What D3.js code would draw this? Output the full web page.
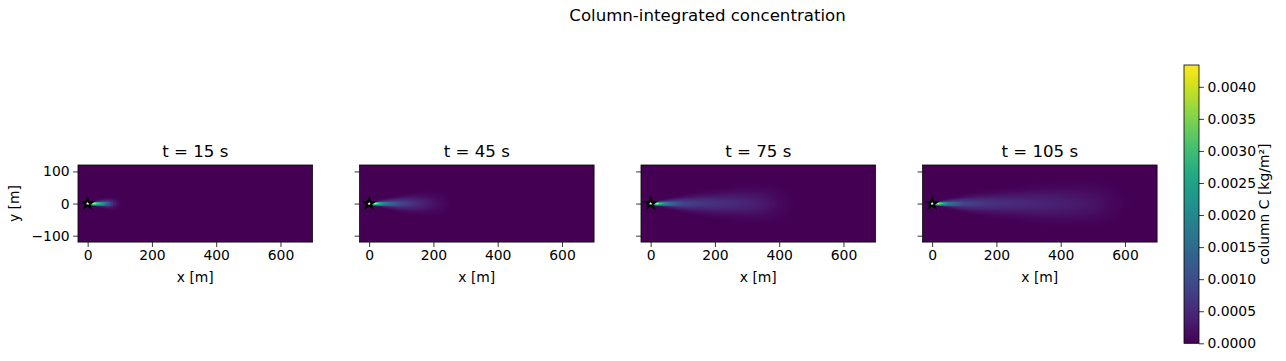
<!DOCTYPE html>
<html>
<head>
<meta charset="utf-8">
<script src="https://cdn.jsdelivr.net/npm/d3@7"></script>
<style>
  body { margin: 0; background: #fff; }
  text { font-family: "DejaVu Sans", sans-serif; fill: #000; }
</style>
</head>
<body>
<div id="chart"></div>
<script>
// snapshot times [s]
const times = [15, 45, 75, 105];

const stationX = [0, 10, 20, 25, 30, 40, 50, 60, 80, 100, 150, 200, 250, 300, 350, 400, 450, 500, 550, 600, 700];

// centreline column concentration [kg/m²] per snapshot
const center15  = [0.0043, 0.0043, 0.0042, 0.0038, 0.0033, 0.0027, 0.0021, 0.0015, 0.0004, 0.00003, 0, 0, 0, 0, 0, 0, 0, 0, 0, 0, 0];
const center45  = [0.0043, 0.0043, 0.0042, 0.0036, 0.0030, 0.0024, 0.0019, 0.0016, 0.0012, 0.0009, 0.0005, 0.0002, 0.00002, 0, 0, 0, 0, 0, 0, 0, 0];
const center75  = [0.0043, 0.0043, 0.0042, 0.0036, 0.0030, 0.0024, 0.0019, 0.0016, 0.0012, 0.0009, 0.0007, 0.0006, 0.00052, 0.00042, 0.00028, 0.0001, 0.00001, 0, 0, 0, 0];
const center105 = [0.0043, 0.0043, 0.0042, 0.0036, 0.0030, 0.0024, 0.0019, 0.0016, 0.0012, 0.0009, 0.0007, 0.0006, 0.00052, 0.00047, 0.00042, 0.00037, 0.0003, 0.00022, 0.0001, 0.00002, 0];

// crosswind spread [m] at each station
const sigmaY = [1.5, 2.5, 3.2, 3.6, 4, 4.8, 5.6, 6.5, 8.5, 11, 15, 18, 21, 24, 27, 29, 31, 33, 35, 37, 40];

const centers = [center15, center45, center75, center105];

const xTicks = [0, 200, 400, 600];
const yTicks = [-100, 0, 100];
const cbarTicks = [0, 0.0005, 0.001, 0.0015, 0.002, 0.0025, 0.003, 0.0035, 0.004];
const cMax = 0.00434;

const width = 1286, height = 361;

const svg = d3.select("#chart").append("svg")
    .attr("width", width)
    .attr("height", height);

svg.append("text")
    .attr("x", 707.5)
    .attr("y", 21)
    .attr("text-anchor", "middle")
    .style("font-size", "16.6px")
    .text("Column-integrated concentration");

const panelW = 234.6, panelH = 77.1, panelTop = 165;
const panelLeft = [78, 359.5, 641, 922.5];

const color = d3.scaleSequential(d3.interpolateViridis).domain([0, cMax]);

const dx = 5, dy = 2.5;
const cellX = d3.range(-30, 701, dx);
const cellY = d3.range(-120, 120.1, dy);

const sigmaScale = d3.scaleLinear().domain(stationX).range(sigmaY).clamp(true);

centers.forEach((center, i) => {
    const x = d3.scaleLinear().domain([-30, 700]).range([0, panelW]);
    const y = d3.scaleLinear().domain([-120, 120]).range([panelH, 0]);
    const centerScale = d3.scaleLinear().domain(stationX).range(center).clamp(true);

    const g = svg.append("g")
        .attr("transform", `translate(${panelLeft[i]},${panelTop})`);

    g.append("clipPath").attr("id", "clip" + i)
        .append("rect").attr("width", panelW).attr("height", panelH);

    const cells = [];
    cellX.forEach(cx => {
        cellY.forEach(cy => {
            const s = sigmaScale(Math.max(cx, 0));
            const c0 = cx < 0 ? 0 : centerScale(cx);
            const v = c0 * Math.exp(-(cy * cy) / (2 * s * s));
            cells.push({ cx, cy, v });
        });
    });

    const heat = g.append("g").attr("clip-path", `url(#clip${i})`);
    heat.append("rect")
        .attr("width", panelW).attr("height", panelH)
        .attr("fill", color(0));
    heat.selectAll("rect.cell")
        .data(cells.filter(d => d.v > cMax * 0.002))
        .join("rect")
        .attr("class", "cell")
        .attr("x", d => x(d.cx - dx / 2))
        .attr("y", d => y(d.cy + dy / 2))
        .attr("width", d => x(d.cx + dx / 2) - x(d.cx - dx / 2))
        .attr("height", d => y(d.cy - dy / 2) - y(d.cy + dy / 2))
        .attr("shape-rendering", "crispEdges")
        .attr("fill", d => color(d.v));

    // source marker
    g.append("path")
        .attr("d", d3.symbol(d3.symbolStar, 30)())
        .attr("transform", `translate(${x(0)},${y(0)})`)
        .attr("fill", "#fff")
        .attr("stroke", "#000")
        .attr("stroke-width", 2);

    g.append("rect")
        .attr("width", panelW).attr("height", panelH)
        .attr("fill", "none")
        .attr("stroke", "#000")
        .attr("stroke-width", 0.8);

    const xAxis = g.append("g")
        .attr("transform", `translate(0,${panelH})`)
        .call(d3.axisBottom(x).tickValues(xTicks).tickSize(4.9).tickPadding(3.5).tickFormat(d3.format("d")));
    xAxis.select(".domain").remove();

    const yAxis = g.append("g")
        .call(d3.axisLeft(y).tickValues(yTicks).tickSize(4.9).tickPadding(3.5)
            .tickFormat(i === 0 ? (d => d < 0 ? "\u2212" + Math.abs(d) : d) : () => ""));
    yAxis.select(".domain").remove();

    g.selectAll(".tick line").attr("stroke", "#000").attr("stroke-width", 0.8);
    g.selectAll(".tick text").style("font-size", "13.9px").style("font-family", "DejaVu Sans").attr("fill", "#000");

    g.append("text")
        .attr("x", panelW / 2)
        .attr("y", -8)
        .attr("text-anchor", "middle")
        .style("font-size", "16.6px")
        .text(`t = ${times[i]} s`);

    g.append("text")
        .attr("x", panelW / 2)
        .attr("y", panelH + 40)
        .attr("text-anchor", "middle")
        .style("font-size", "13.9px")
        .text("x [m]");

    if (i === 0) {
        g.append("text")
            .attr("transform", `translate(${19 - panelLeft[0]},${panelH / 2}) rotate(-90)`)
            .attr("text-anchor", "middle")
            .style("font-size", "13.9px")
            .text("y [m]");
    }
});

// colorbar
const cbX = 1184, cbY = 65, cbW = 15, cbH = 278.3;
const cScale = d3.scaleLinear().domain([0, cMax]).range([cbH, 0]);

const grad = svg.append("defs").append("linearGradient")
    .attr("id", "cbgrad")
    .attr("x1", 0).attr("y1", 1).attr("x2", 0).attr("y2", 0);
d3.range(0, 1.0001, 0.05).forEach(t => {
    grad.append("stop").attr("offset", t).attr("stop-color", d3.interpolateViridis(t));
});

const cb = svg.append("g").attr("transform", `translate(${cbX},${cbY})`);
cb.append("rect")
    .attr("width", cbW).attr("height", cbH)
    .attr("fill", "url(#cbgrad)")
    .attr("stroke", "#000")
    .attr("stroke-width", 0.8);

const cAxis = cb.append("g")
    .attr("transform", `translate(${cbW},0)`)
    .call(d3.axisRight(cScale).tickValues(cbarTicks).tickSize(4.9).tickPadding(3.5).tickFormat(d3.format(".4f")));
cAxis.select(".domain").remove();
cAxis.selectAll(".tick line").attr("stroke", "#000").attr("stroke-width", 0.8);
cAxis.selectAll(".tick text").style("font-size", "13.9px").style("font-family", "DejaVu Sans").attr("fill", "#000");

svg.append("text")
    .attr("transform", `translate(1269,${cbY + cbH / 2}) rotate(-90)`)
    .attr("text-anchor", "middle")
    .style("font-size", "13.9px")
    .text("column C [kg/m²]");
</script>
</body>
</html>
